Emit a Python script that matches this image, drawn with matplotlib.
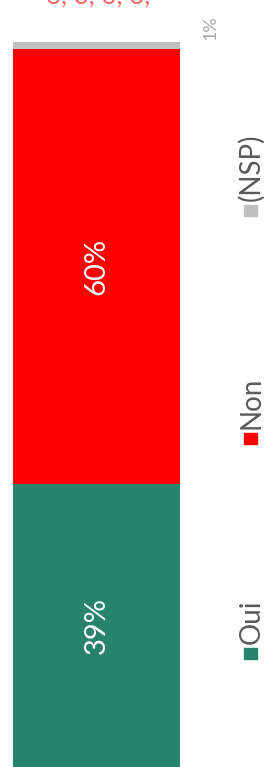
import numpy as np
import matplotlib.pyplot as plt
from matplotlib.patches import Rectangle

# donnees
categories = ['Oui', 'Non', '(NSP)']
valeurs = [39, 60, 1]
couleurs = ['#27836A', '#FF0000', '#BFBFBF']
etiquettes = ['39%', '60%', '1%']

plt.rcParams['font.family'] = ['Lato', 'DejaVu Sans']

W, H = 266, 767
fig = plt.figure(figsize=(W/100, H/100), dpi=100)

# axe de la barre (pixels: x 13-180, y 42-767)
ax = fig.add_axes([13/W, 0, 167/W, 725/H])
bas = 0
for cat, v, c, lab in zip(categories, valeurs, couleurs, etiquettes):
    ax.bar(0, v, width=1, bottom=bas, color=c, edgecolor='none')
    if v > 5:
        ax.text(0, bas + v/2, lab, rotation=90, color='white', fontsize=21,
                ha='center', va='center')
    else:
        ax.annotate(lab, xy=(0.5, bas + v), xytext=(31, 14),
                    textcoords='offset pixels', rotation=90, color='#A6A6A6',
                    fontsize=13, ha='center', va='center', annotation_clip=False)
    bas += v
ax.set_xlim(-0.5, 0.5)
ax.set_ylim(0, 100)
ax.axis('off')

# legende verticale
pos_leg = [648, 433, 205]
for cat, c, yp in zip(categories, couleurs, pos_leg):
    fig.patches.append(Rectangle((244/W, 1 - (yp + 11)/H), 13/W, 11/H,
                                 transform=fig.transFigure, color=c))
    fig.text(251.5/W, 1 - (yp - 4)/H, cat, rotation=90, color='#595959',
             fontsize=20, ha='center', va='bottom')

# titre coupe en haut
fig.text(0.37, 1.006, 'o, o, o, o,', color='#FF0000', fontsize=19,
         ha='center', va='center', alpha=0.6)

fig.savefig('out.png', dpi=100)
